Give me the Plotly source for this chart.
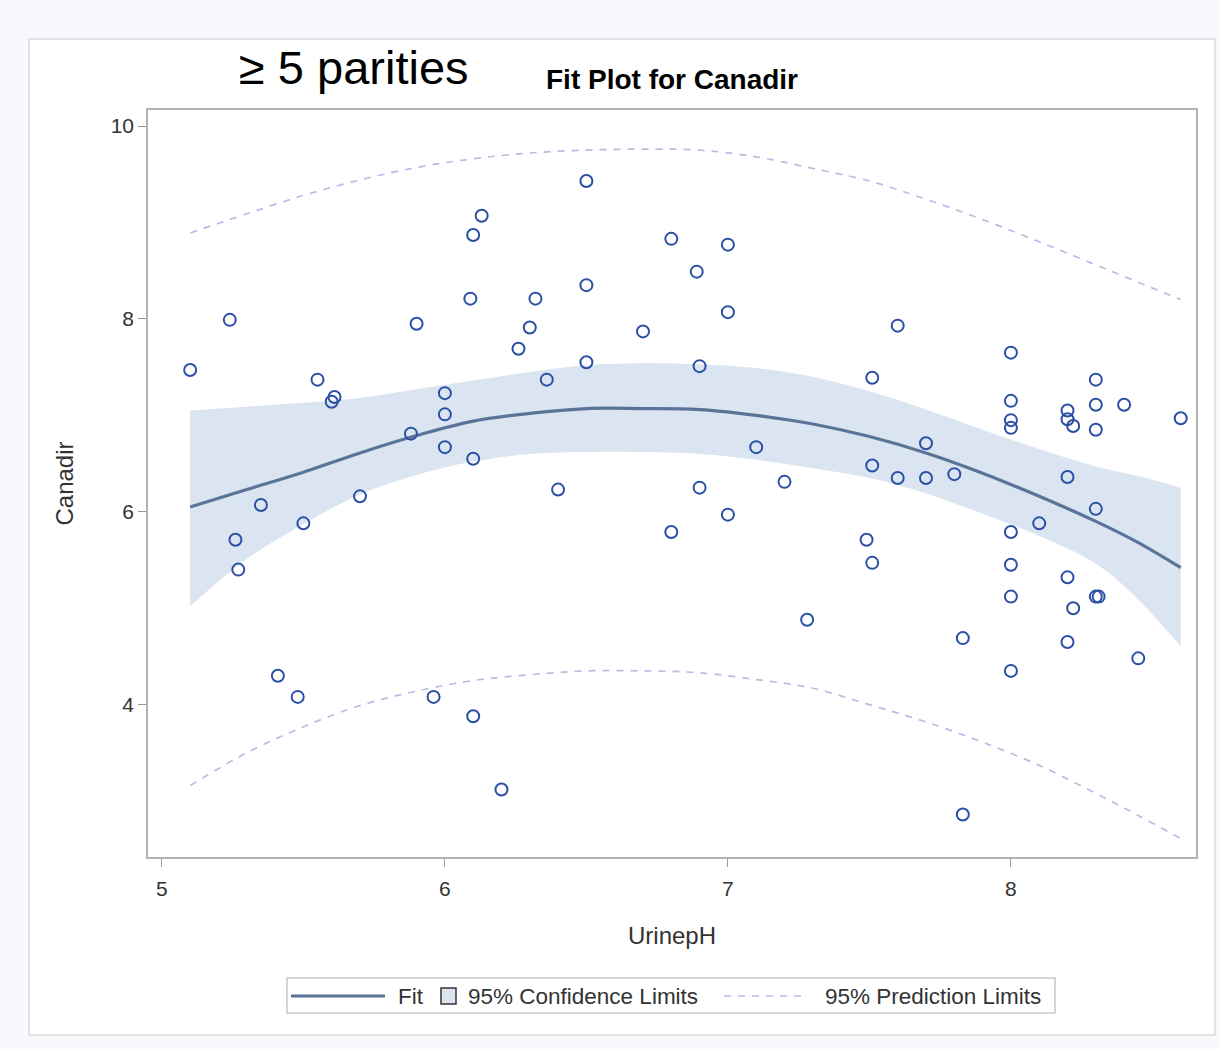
import plotly.graph_objects as go

urine_ph = [5.10, 5.24, 5.26, 5.27, 5.35, 5.41, 5.48, 5.50, 5.55, 5.60,
            5.61, 5.70, 5.88, 5.90, 5.96, 6.00, 6.00, 6.00, 6.10, 6.13,
            6.09, 6.10, 6.10, 6.20, 6.26, 6.30, 6.32, 6.36, 6.40, 6.50,
            6.50, 6.50, 6.70, 6.80, 6.80, 6.89, 6.90, 6.90, 7.00, 7.00,
            7.00, 7.10, 7.20, 7.28, 7.49, 7.51, 7.51, 7.51, 7.60, 7.60,
            7.70, 7.70, 7.80, 7.83, 7.83, 8.00, 8.00, 8.00, 8.00, 8.00,
            8.00, 8.00, 8.00, 8.10, 8.20, 8.20, 8.22, 8.20, 8.20, 8.20,
            8.22, 8.30, 8.30, 8.30, 8.30, 8.30, 8.31, 8.40, 8.45, 8.60]
canadir = [7.47, 7.99, 5.71, 5.40, 6.07, 4.30, 4.08, 5.88, 7.37, 7.14,
           7.19, 6.16, 6.81, 7.95, 4.08, 7.23, 7.01, 6.67, 8.87, 9.07,
           8.21, 6.55, 3.88, 3.12, 7.69, 7.91, 8.21, 7.37, 6.23, 9.43,
           8.35, 7.55, 7.87, 8.83, 5.79, 8.49, 7.51, 6.25, 8.77, 8.07,
           5.97, 6.67, 6.31, 4.88, 5.71, 7.39, 6.48, 5.47, 7.93, 6.35,
           6.71, 6.35, 6.39, 4.69, 2.86, 7.65, 7.15, 6.95, 6.87, 5.79,
           5.45, 5.12, 4.35, 5.88, 7.05, 6.96, 6.89, 6.36, 5.32, 4.65,
           5.00, 7.37, 7.11, 6.85, 6.03, 5.12, 5.12, 7.11, 4.48, 6.97]

# ---- fitted curve and limits ----
fit_x = [5.1, 5.3, 5.5, 5.7, 5.9, 6.1, 6.3, 6.5, 6.7, 6.9,
         7.1, 7.3, 7.5, 7.7, 7.9, 8.1, 8.3, 8.45, 8.6]
fit_y = [6.05, 6.23, 6.41, 6.61, 6.79, 6.94, 7.02, 7.07, 7.07, 7.06,
         7.00, 6.91, 6.78, 6.61, 6.40, 6.16, 5.90, 5.68, 5.42]
cl_upper = [7.05, 7.09, 7.13, 7.18, 7.27, 7.36, 7.45, 7.52, 7.54, 7.53,
            7.49, 7.40, 7.25, 7.06, 6.85, 6.65, 6.47, 6.37, 6.25]
cl_lower = [5.02, 5.51, 5.87, 6.18, 6.38, 6.52, 6.60, 6.62, 6.62, 6.60,
            6.54, 6.45, 6.35, 6.19, 5.98, 5.75, 5.46, 5.09, 4.60]
pl_upper = [8.89, 9.09, 9.28, 9.44, 9.57, 9.66, 9.72, 9.75, 9.76, 9.75,
            9.68, 9.56, 9.43, 9.24, 9.03, 8.80, 8.56, 8.38, 8.20]
pl_lower = [3.16, 3.50, 3.77, 3.99, 4.14, 4.25, 4.31, 4.35, 4.35, 4.33,
            4.26, 4.17, 4.00, 3.82, 3.61, 3.37, 3.08, 2.85, 2.61]

x_ticks = [5, 6, 7, 8]
y_ticks = [4, 6, 8, 10]
legend_labels = ["Fit", "95% Confidence Limits", "95% Prediction Limits"]

FONT = "Liberation Sans, Arial, sans-serif"
FIT_COLOR = "#5a7497"
BAND_COLOR = "#dbe5f1"
PL_COLOR = "#b6bee2"
PT_COLOR = "#2c4fa6"

fig = go.Figure()

# confidence band
fig.add_trace(go.Scatter(x=fit_x, y=cl_upper, mode="lines", line=dict(width=0, shape="spline"),
                         showlegend=False, hoverinfo="skip"))
fig.add_trace(go.Scatter(x=fit_x, y=cl_lower, mode="lines", line=dict(width=0, shape="spline"),
                         fill="tonexty", fillcolor=BAND_COLOR, showlegend=False, hoverinfo="skip"))

# prediction limits
for pl in (pl_upper, pl_lower):
    fig.add_trace(go.Scatter(x=fit_x, y=pl, mode="lines", showlegend=False,
                             line=dict(color=PL_COLOR, width=1.7, dash="7px,7px", shape="spline")))

# fit line
fig.add_trace(go.Scatter(x=fit_x, y=fit_y, mode="lines", showlegend=False,
                         line=dict(color=FIT_COLOR, width=3.2, shape="spline")))

# observations
fig.add_trace(go.Scatter(x=urine_ph, y=canadir, mode="markers", showlegend=False,
                         marker=dict(symbol="circle-open", size=12, color=PT_COLOR,
                                     line=dict(width=2, color=PT_COLOR))))

W, H = 1220, 1049
ML, MR, MT, MB = 148, 24, 110, 192
pw, ph = W - ML - MR, H - MT - MB


def px(p):
    return (p - ML) / pw


def py(p):
    return (H - MB - p) / ph


# outer white panel
fig.add_shape(type="rect", xref="paper", yref="paper",
              x0=px(29), x1=px(1215), y0=py(1035), y1=py(39),
              fillcolor="white", line=dict(color="#dcdcdc", width=1.5), layer="below")

# titles
fig.add_annotation(text="≥ 5 parities", xref="paper", yref="paper",
                   x=px(237), y=py(68), xanchor="left", yanchor="middle", showarrow=False,
                   font=dict(family=FONT, size=47, color="#000"))
fig.add_annotation(text="<b>Fit Plot for Canadir</b>", xref="paper", yref="paper",
                   x=px(672), y=py(80), xanchor="center", yanchor="middle", showarrow=False,
                   font=dict(family=FONT, size=28, color="#000"))

# legend (drawn manually to match the SAS layout)
LY = 996
fig.add_shape(type="rect", xref="paper", yref="paper", x0=px(287), x1=px(1055),
              y0=py(1013), y1=py(978), fillcolor="white", line=dict(color="#c8c8c8", width=1.5))
fig.add_shape(type="line", xref="paper", yref="paper", x0=px(291), x1=px(385), y0=py(LY), y1=py(LY),
              line=dict(color=FIT_COLOR, width=3.2))
fig.add_shape(type="rect", xref="paper", yref="paper", x0=px(441), x1=px(456), y0=py(1004), y1=py(988),
              fillcolor=BAND_COLOR, line=dict(color="#333333", width=1.5))
fig.add_shape(type="line", xref="paper", yref="paper", x0=px(724), x1=px(808), y0=py(LY), y1=py(LY),
              line=dict(color=PL_COLOR, width=1.7, dash="7px,7px"))
for lbl, xl in zip(legend_labels, [396, 466, 823]):
    fig.add_annotation(text=lbl, xref="paper", yref="paper", x=px(xl), y=py(LY),
                       xanchor="left", yanchor="middle", showarrow=False,
                       font=dict(family=FONT, size=22.5, color="#333"))

axis_common = dict(showline=True, linecolor="#b4b4b4", linewidth=1.5, mirror=True,
                   ticks="outside", ticklen=8, tickcolor="#9a9a9a", tickwidth=1,
                   showgrid=False, zeroline=False,
                   tickfont=dict(family=FONT, size=21, color="#333"))

fig.update_layout(
    width=W, height=H,
    margin=dict(l=ML, r=MR, t=MT, b=MB),
    paper_bgcolor="#f8f9fd", plot_bgcolor="white",
    xaxis=dict(range=[4.951, 8.654], tickvals=x_ticks, ticktext=[str(v) for v in x_ticks],
               ticklabelstandoff=4,
               title=dict(text="UrinepH", font=dict(family=FONT, size=24, color="#333"), standoff=28),
               **axis_common),
    yaxis=dict(range=[2.42, 10.166], tickvals=y_ticks, ticktext=[str(v) for v in y_ticks],
               title=dict(text="Canadir", font=dict(family=FONT, size=24, color="#333"), standoff=30),
               **axis_common),
    showlegend=False,
)

fig.write_html("out.html", config={"displayModeBar": False},
               post_script="document.body.style.margin='0';")
